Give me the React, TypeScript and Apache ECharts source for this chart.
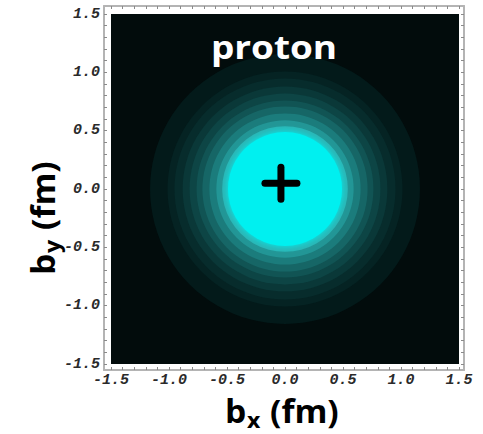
import React, { useEffect, useRef } from "react";
import * as echarts from "echarts";

// ---- data ----
const axisTickLabels = [-1.5, -1.0, -0.5, 0.0, 0.5, 1.0, 1.5];
const frameTickValues = [
  -1.5, -1.4, -1.3, -1.2, -1.1, -1.0, -0.9, -0.8, -0.7, -0.6, -0.5, -0.4, -0.3, -0.2, -0.1,
  0.0, 0.1, 0.2, 0.3, 0.4, 0.5, 0.6, 0.7, 0.8, 0.9, 1.0, 1.1, 1.2, 1.3, 1.4, 1.5,
];
// contour levels (1 = outermost, 11 = core) and their radii in fm
const contourLevels = [1, 2, 3, 4, 5, 6, 7, 8, 9, 10, 11];
const contourRadiiFm = [1.16, 1.01, 0.95, 0.88, 0.82, 0.76, 0.71, 0.65, 0.59, 0.54, 0.49];
const protonCenter = [0.0, 0.0];
const chargeMarker = [-0.035, 0.05];
const labelText = "proton";

// ---- styles ----
const levelColors = [
  "#031a1a", "#052323", "#072c2c", "#0a3838", "#0d4545", "#115454",
  "#166666", "#1b7c7c", "#229696", "#2ab6b6", "#00f0f0",
];

const titleFont = '"Open Sans", "Noto Sans", sans-serif';
const tickFont = '"Liberation Mono", "DejaVu Sans Mono", monospace';

function axisTitle(sub: string, x: number, y: number, rotation: number) {
  return {
    type: "group",
    x,
    y,
    rotation,
    children: [
      {
        type: "text",
        x: 0,
        y: -10,
        scaleX: 1.05,
        style: { text: "b", fill: "#000", font: `bold 32px ${titleFont}`, align: "left", verticalAlign: "middle" },
      },
      {
        type: "text",
        x: 22,
        y: -1,
        scaleX: 1.05,
        style: { text: sub, fill: "#000", font: `bold 22px ${titleFont}`, align: "left", verticalAlign: "middle" },
      },
      {
        type: "text",
        x: 45,
        y: -10,
        scaleX: 1.05,
        style: { text: "(fm)", fill: "#000", font: `bold 32px ${titleFont}`, align: "left", verticalAlign: "middle" },
      },
    ],
  };
}

export default function App() {
  const ref = useRef<HTMLDivElement>(null);
  useEffect(() => {
    if (!ref.current) return;
    const chart = echarts.init(ref.current, undefined, { renderer: "svg" });

    const ringData = contourLevels.map((lv, i) => [protonCenter[0], protonCenter[1], contourRadiiFm[i], lv]);

    const tickLabelStyle = {
      show: true,
      fontFamily: tickFont,
      fontWeight: "bold",
      fontStyle: "italic",
      fontSize: 15,
      color: "#2a2a2a",
      formatter: (v: number) => v.toFixed(1),
      customValues: axisTickLabels,
    };

    const frameAxisCommon = {
      axisLine: { show: true, onZero: false, lineStyle: { color: "#b4b4b4", width: 2 } },
      axisTick: { show: true, inside: true, length: 3, lineStyle: { color: "#8a8a8a", width: 1 }, customValues: frameTickValues },
      axisLabel: { show: false },
      splitLine: { show: false },
    };

    const option: any = {
      animation: false,
      backgroundColor: "#ffffff",
      grid: [
        { left: 111, top: 14, width: 348, height: 350, show: true, backgroundColor: "#020c0c", borderWidth: 0 },
        { left: 104, top: 6, width: 360, height: 364, show: false },
      ],
      xAxis: [
        {
          gridIndex: 0,
          type: "value",
          min: -1.5,
          max: 1.5,
          interval: 0.5,
          axisLine: { show: false },
          axisTick: { show: false },
          splitLine: { show: false },
          axisLabel: { ...tickLabelStyle, margin: 9 },
        },
        { gridIndex: 1, type: "value", position: "bottom", min: -1.5603, max: 1.5431, ...frameAxisCommon },
        { gridIndex: 1, type: "value", position: "top", min: -1.5603, max: 1.5431, ...frameAxisCommon },
      ],
      yAxis: [
        {
          gridIndex: 0,
          type: "value",
          min: -1.5,
          max: 1.5,
          interval: 0.5,
          axisLine: { show: false },
          axisTick: { show: false },
          splitLine: { show: false },
          axisLabel: { ...tickLabelStyle, margin: 11 },
        },
        { gridIndex: 1, type: "value", position: "left", min: -1.5514, max: 1.5686, ...frameAxisCommon },
        { gridIndex: 1, type: "value", position: "right", min: -1.5514, max: 1.5686, ...frameAxisCommon },
      ],
      series: [
        {
          type: "custom",
          xAxisIndex: 0,
          yAxisIndex: 0,
          clip: true,
          data: ringData,
          renderItem: (params: any, api: any) => {
            const c = api.coord([api.value(0), api.value(1)]);
            const s = api.size([api.value(2), api.value(2)]);
            const lv = api.value(3);
            const isCore = lv === contourLevels[contourLevels.length - 1];
            return {
              type: "circle",
              shape: { cx: c[0], cy: c[1], r: (s[0] + s[1]) / 2 },
              style: {
                fill: levelColors[lv - 1],
                shadowBlur: isCore ? 6 : 0,
                shadowColor: isCore ? "#00f0f0" : "transparent",
              },
            };
          },
          z: 2,
        },
        {
          type: "custom",
          xAxisIndex: 0,
          yAxisIndex: 0,
          data: [chargeMarker],
          renderItem: (params: any, api: any) => {
            const c = api.coord([api.value(0), api.value(1)]);
            const h = 16;
            const st = { stroke: "#000", lineWidth: 7, lineCap: "round" };
            return {
              type: "group",
              children: [
                { type: "line", shape: { x1: c[0] - h, y1: c[1], x2: c[0] + h, y2: c[1] }, style: st },
                { type: "line", shape: { x1: c[0], y1: c[1] - h, x2: c[0], y2: c[1] + h }, style: st },
              ],
            };
          },
          z: 5,
        },
      ],
      graphic: [
        {
          type: "text",
          x: 274,
          y: 46,
          scaleX: 1.12,
          z: 10,
          style: { text: labelText, fill: "#ffffff", font: `bold 33px ${titleFont}`, align: "center", verticalAlign: "middle" },
        },
        axisTitle("x", 225, 421, 0),
        axisTitle("y", 53, 275, Math.PI / 2),
      ],
    };
    chart.setOption(option);
    return () => chart.dispose();
  }, []);

  return (
    <div
      ref={ref}
      style={{ position: "fixed", left: 0, top: 0, width: 483, height: 434, background: "#fff" }}
    />
  );
}
